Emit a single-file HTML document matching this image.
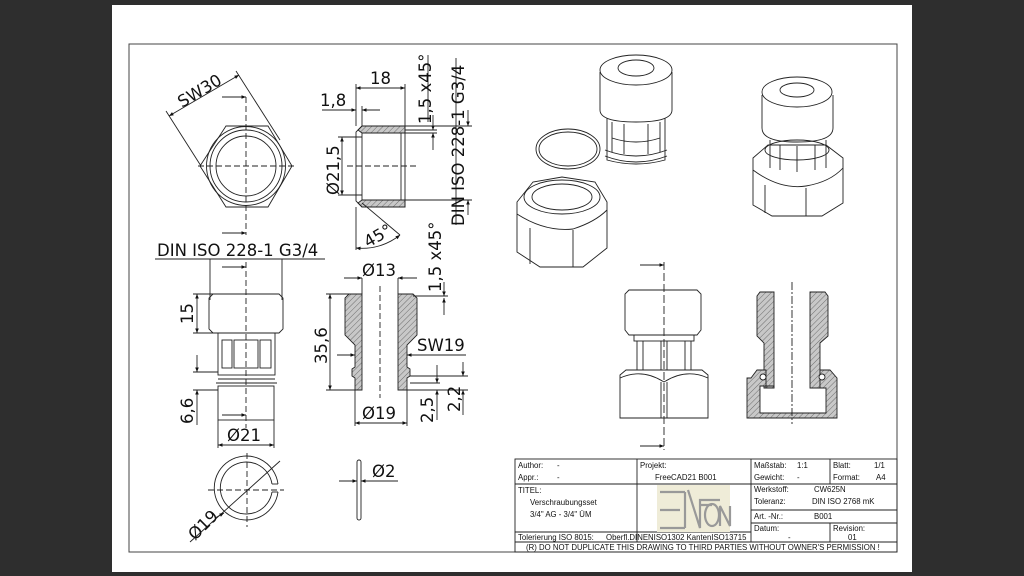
<!DOCTYPE html>
<html><head><meta charset="utf-8"><style>
html,body{margin:0;padding:0;background:#2e2e2e;}
svg{display:block;}
text{font-family:"Liberation Sans",sans-serif;fill:#111;}
.d{font-size:16.5px;font-family:"DejaVu Sans","Liberation Sans",sans-serif;}
.t{font-size:7.8px;}
</style></head><body>
<svg width="1024" height="576" viewBox="0 0 1024 576" xmlns="http://www.w3.org/2000/svg">
<defs>
<pattern id="h" width="4" height="4" patternUnits="userSpaceOnUse" patternTransform="rotate(45)">
<rect width="4" height="4" fill="#c8c8c8"/><line x1="0" y1="0" x2="0" y2="4" stroke="#555" stroke-width="0.8"/>
</pattern>
<marker id="a" viewBox="0 0 10 10" refX="10" refY="5" markerWidth="7" markerHeight="5" orient="auto-start-reverse"><path d="M0,1 L10,5 L0,9z" fill="#111"/></marker>
</defs>
<rect x="0" y="0" width="1024" height="576" fill="#2e2e2e"/>
<rect x="112" y="5" width="800" height="567" fill="#fff"/>
<rect x="129" y="44" width="768" height="508" fill="none" stroke="#444" stroke-width="1"/>

<g stroke="#222" stroke-width="0.9" fill="none">
<polygon points="200,166 226,126 268,126 292,166 268,207 226,207"/>
<circle cx="246" cy="166" r="39.5"/><circle cx="246" cy="166" r="36"/><circle cx="246" cy="166" r="30"/>
<line x1="246" y1="97" x2="246" y2="235" stroke-dasharray="6,3"/>
<line x1="198" y1="166" x2="296" y2="166" stroke-dasharray="6,3"/>
<line x1="169" y1="116" x2="239" y2="75" marker-start="url(#a)" marker-end="url(#a)"/>
<line x1="166" y1="111" x2="201" y2="166"/>
<line x1="236" y1="71" x2="280" y2="140"/>
<line x1="222" y1="97" x2="246" y2="97" marker-end="url(#a)"/>
<line x1="222" y1="233" x2="246" y2="233" marker-end="url(#a)"/>

<path d="M362,126 H405 V133 H362 L358,130 Z" fill="url(#h)"/>
<path d="M362,207 H405 V200 H362 L358,203 Z" fill="url(#h)"/>
<path d="M362,126 H405 V207 H362 L356,201 V132 Z"/>
<line x1="362" y1="133" x2="362" y2="200"/><line x1="401" y1="133" x2="401" y2="200"/>
<line x1="347" y1="166" x2="416" y2="166" stroke-dasharray="6,3"/>
<line x1="356" y1="84" x2="356" y2="126"/><line x1="405" y1="84" x2="405" y2="126"/>
<line x1="356" y1="88" x2="405" y2="88" marker-start="url(#a)" marker-end="url(#a)"/>
<line x1="362" y1="106" x2="362" y2="126"/>
<line x1="322" y1="110" x2="356" y2="110" marker-end="url(#a)"/>
<line x1="380" y1="110" x2="362" y2="110" marker-end="url(#a)"/>
<line x1="338" y1="137" x2="362" y2="137"/><line x1="338" y1="195" x2="362" y2="195"/>
<line x1="342" y1="137" x2="342" y2="195" marker-start="url(#a)" marker-end="url(#a)"/>
<line x1="405" y1="130" x2="437" y2="130"/><line x1="405" y1="133" x2="437" y2="133"/>
<line x1="433" y1="115" x2="433" y2="130" marker-end="url(#a)"/>
<line x1="433" y1="150" x2="433" y2="133" marker-end="url(#a)"/>
<line x1="405" y1="126" x2="472" y2="126"/><line x1="405" y1="200" x2="472" y2="200"/>
<line x1="468" y1="110" x2="468" y2="126" marker-end="url(#a)"/>
<line x1="468" y1="215" x2="468" y2="200" marker-end="url(#a)"/>
<line x1="428" y1="55" x2="428" y2="122"/><line x1="456" y1="58" x2="456" y2="225"/>
<line x1="356" y1="207" x2="356" y2="250"/>
<line x1="362" y1="203" x2="400" y2="235"/>
<path d="M356,248 A60,60 0 0 0 400,235" marker-start="url(#a)" marker-end="url(#a)"/>

<line x1="155" y1="259" x2="325" y2="259"/>
<line x1="210" y1="259" x2="210" y2="300"/><line x1="282" y1="259" x2="282" y2="300"/>
<path d="M213,294 H279 L283,298 V329 L279,333 H213 L209,329 V298 Z"/>
<rect x="218" y="333" width="57" height="42"/>
<rect x="222" y="340" width="10" height="28"/><rect x="234" y="340" width="24" height="28"/><rect x="260" y="340" width="11" height="28"/>
<line x1="218" y1="379" x2="275" y2="379"/><line x1="216" y1="383" x2="277" y2="383"/>
<rect x="218" y="386" width="56" height="34"/>
<line x1="246" y1="262" x2="246" y2="428" stroke-dasharray="6,3"/>
<line x1="222" y1="267" x2="246" y2="267" marker-end="url(#a)"/>
<line x1="222" y1="415" x2="246" y2="415" marker-end="url(#a)"/>
<line x1="193" y1="294" x2="213" y2="294"/><line x1="193" y1="333" x2="213" y2="333"/>
<line x1="197" y1="294" x2="197" y2="333" marker-start="url(#a)" marker-end="url(#a)"/>
<line x1="193" y1="372" x2="218" y2="372"/><line x1="193" y1="390" x2="218" y2="390"/>
<line x1="197" y1="355" x2="197" y2="372" marker-end="url(#a)"/>
<line x1="197" y1="425" x2="197" y2="390" marker-end="url(#a)"/>
<line x1="218" y1="420" x2="218" y2="448"/><line x1="274" y1="420" x2="274" y2="448"/>
<line x1="218" y1="445" x2="274" y2="445" marker-start="url(#a)" marker-end="url(#a)"/>

<path d="M278,492 A32,32 0 1 1 278,484"/>
<path d="M272,492 A26,26 0 1 1 272,484"/>
<line x1="278" y1="492" x2="272" y2="492"/><line x1="278" y1="484" x2="272" y2="484"/>
<line x1="208" y1="490" x2="284" y2="490" stroke-dasharray="6,3"/>
<line x1="247" y1="453" x2="247" y2="527" stroke-dasharray="6,3"/>
<line x1="190" y1="542" x2="280" y2="461"/>
<line x1="215" y1="518" x2="224" y2="513" marker-end="url(#a)"/>

<path d="M349,294 H362 V390 H355 V378 L352,376 V369 L355,367 V345 L345,335 V298 Z" fill="url(#h)"/>
<path d="M413,294 H398 V390 H407 V378 L410,376 V369 L407,367 V345 L417,335 V298 Z" fill="url(#h)"/>
<line x1="380" y1="286" x2="380" y2="398" stroke-dasharray="6,3"/>
<line x1="362" y1="278" x2="362" y2="294"/><line x1="398" y1="278" x2="398" y2="294"/>
<line x1="344" y1="278" x2="362" y2="278" marker-end="url(#a)"/>
<line x1="417" y1="278" x2="398" y2="278" marker-end="url(#a)"/>
<line x1="326" y1="294" x2="349" y2="294"/><line x1="326" y1="390" x2="355" y2="390"/>
<line x1="330" y1="294" x2="330" y2="390" marker-start="url(#a)" marker-end="url(#a)"/>
<line x1="337" y1="355" x2="355" y2="355" marker-end="url(#a)"/>
<line x1="466" y1="355" x2="407" y2="355" marker-end="url(#a)"/>
<line x1="413" y1="296" x2="448" y2="296"/>
<line x1="444" y1="282" x2="444" y2="296" marker-end="url(#a)"/>
<line x1="444" y1="315" x2="444" y2="298" marker-end="url(#a)"/>
<line x1="410" y1="376" x2="468" y2="376"/><line x1="410" y1="383" x2="440" y2="383"/><line x1="407" y1="390" x2="468" y2="390"/>
<line x1="437" y1="365" x2="437" y2="383" marker-end="url(#a)"/>
<line x1="437" y1="420" x2="437" y2="390" marker-end="url(#a)"/>
<line x1="463" y1="362" x2="463" y2="376" marker-end="url(#a)"/>
<line x1="463" y1="415" x2="463" y2="390" marker-end="url(#a)"/>
<line x1="355" y1="390" x2="355" y2="426"/><line x1="407" y1="390" x2="407" y2="426"/>
<line x1="355" y1="423" x2="407" y2="423" marker-start="url(#a)" marker-end="url(#a)"/>

<rect x="357" y="460" width="4" height="60" rx="2"/>
<line x1="339" y1="481" x2="357" y2="481" marker-end="url(#a)"/>
<line x1="398" y1="481" x2="361" y2="481" marker-end="url(#a)"/>

<path d="M600,72 V110 Q600,122 636,122 Q672,122 672,110 V72"/>
<ellipse cx="636" cy="70" rx="36" ry="15"/>
<ellipse cx="636" cy="68" rx="18" ry="8"/>
<path d="M607,118 V160 Q636,168 665,160 V118"/>
<path d="M612,122 V152 M624,124 V154 M648,124 V154 M660,122 V152 M612,138 Q636,146 660,138"/>
<path d="M605,150 Q636,162 667,150 M605,156 Q636,168 667,156"/>
<ellipse cx="568" cy="149" rx="32" ry="20"/><ellipse cx="568" cy="149" rx="29" ry="17"/>
<polygon points="517,202 533,182 562,177 595,182 607,202 607,248 583,267 540,267 517,252"/>
<ellipse cx="562" cy="197" rx="38" ry="17"/><ellipse cx="562" cy="197" rx="30" ry="13"/>
<path d="M530,228 V264 M573,230 V267 M517,214 Q545,232 573,229 Q595,222 607,210"/>
<path d="M762,95 V128 Q762,142 797,142 Q833,142 833,128 V95"/>
<ellipse cx="797" cy="92" rx="35" ry="15"/><ellipse cx="797" cy="90" rx="17" ry="7"/>
<path d="M770,140 V168 M826,140 V168 M780,145 V170 M797,146 V172 M815,145 V170"/>
<polygon points="753,158 768,145 826,145 843,158 843,203 822,216 772,216 753,205"/>
<ellipse cx="797" cy="150" rx="32" ry="10"/>
<path d="M765,185 V213 M806,188 V216 M753,170 Q780,190 806,186 Q830,182 843,168"/>

<path d="M629,290 H697 L701,294 V330 L697,335 H629 L625,330 V294 Z"/>
<rect x="634" y="335" width="60" height="6"/>
<path d="M637,341 V370 M643,341 V370 M685,341 V370 M691,341 V370 M661,341 V370 M667,341 V370"/>
<path d="M620,375 L626,370 H702 L708,375 V418 H620 Z"/>
<path d="M620,378 Q642,368 664,382 Q686,368 708,378"/>
<line x1="661" y1="382" x2="661" y2="418"/><line x1="667" y1="382" x2="667" y2="418"/>
<line x1="664" y1="262" x2="664" y2="450" stroke-dasharray="8,3"/>
<line x1="640" y1="265" x2="664" y2="265" marker-end="url(#a)"/>
<line x1="640" y1="446" x2="664" y2="446" marker-end="url(#a)"/>
<path d="M760,292 H774 V388 H764 V343 L757,336 V296 Z" fill="url(#h)"/>
<path d="M825,292 H810 V388 H820 V343 L828,336 V296 Z" fill="url(#h)"/>
<path d="M751,378 L757,370 H766 V388 H774 V386 H760 V413 H826 V388 H820 V370 H830 L837,378 V418 H747 V378 Z" fill="url(#h)"/>
<circle cx="763" cy="377" r="3" fill="#fff"/><circle cx="822" cy="377" r="3" fill="#fff"/>
<line x1="760" y1="413" x2="826" y2="413"/>
<line x1="792" y1="282" x2="792" y2="424" stroke-dasharray="8,2,2,2"/>

<rect x="515" y="459" width="382" height="93" stroke="#222"/>
<line x1="515" y1="484" x2="751" y2="484"/><line x1="515" y1="532" x2="751" y2="532"/>
<line x1="515" y1="542" x2="897" y2="542"/>
<line x1="637" y1="459" x2="637" y2="542"/><line x1="751" y1="459" x2="751" y2="542"/>
<line x1="830" y1="459" x2="830" y2="484"/><line x1="830" y1="523" x2="830" y2="542"/>
<line x1="751" y1="484" x2="897" y2="484"/><line x1="751" y1="510" x2="897" y2="510"/><line x1="751" y1="523" x2="897" y2="523"/>
</g>
<rect x="657" y="485" width="73" height="47" fill="#efecd8"/>
<g stroke="#999" stroke-width="2.2" fill="none">
<path d="M660,492 H685 M660,510 H680 M660,528 H685 M685,492 V528"/>
<path d="M688,490 L700,528 V500 H720 M700,505 L712,505"/>
<ellipse cx="712" cy="515" rx="7" ry="11"/>
<path d="M720,526 V506 L730,526 V506"/>
</g>

<text class="d" transform="translate(182,108) rotate(-31)">SW30</text>
<text class="d" x="370" y="84">18</text>
<text class="d" x="320" y="106">1,8</text>
<text class="d" transform="translate(339,195) rotate(-90)">Ø21,5</text>
<text class="d" transform="translate(431,124) rotate(-90)">1,5 x45°</text>
<text class="d" transform="translate(464,226) rotate(-90)">DIN ISO 228-1 G3/4</text>
<text class="d" transform="translate(368,248) rotate(-30)">45°</text>
<text class="d" x="157" y="256">DIN ISO 228-1 G3/4</text>
<text class="d" transform="translate(193,324) rotate(-90)">15</text>
<text class="d" transform="translate(193,424) rotate(-90)">6,6</text>
<text class="d" x="227" y="441">Ø21</text>
<text class="d" transform="translate(195,541) rotate(-45)">Ø19</text>
<text class="d" x="362" y="276">Ø13</text>
<text class="d" transform="translate(441,292) rotate(-90)">1,5 x45°</text>
<text class="d" transform="translate(327,364) rotate(-90)">35,6</text>
<text class="d" x="417" y="351">SW19</text>
<text class="d" x="362" y="419">Ø19</text>
<text class="d" transform="translate(433,423) rotate(-90)">2,5</text>
<text class="d" transform="translate(460,412) rotate(-90)">2,2</text>
<text class="d" x="372" y="477">Ø2</text>

<text class="t" x="518" y="468">Author:</text><text class="t" x="557" y="468">-</text>
<text class="t" x="518" y="480">Appr.:</text><text class="t" x="557" y="480">-</text>
<text class="t" x="640" y="468">Projekt:</text><text class="t" x="655" y="480">FreeCAD21 B001</text>
<text class="t" x="518" y="493">TITEL:</text>
<text class="t" x="530" y="505">Verschraubungsset</text>
<text class="t" x="530" y="517">3/4" AG - 3/4" ÜM</text>
<text class="t" x="518" y="540">Tolerierung ISO 8015:</text>
<text class="t" x="606" y="540">Oberfl.DINENISO1302 KantenISO13715</text>
<text class="t" x="754" y="468">Maßstab:</text><text class="t" x="797" y="468">1:1</text>
<text class="t" x="754" y="480">Gewicht:</text><text class="t" x="797" y="480">-</text>
<text class="t" x="833" y="468">Blatt:</text><text class="t" x="874" y="468">1/1</text>
<text class="t" x="833" y="480">Format:</text><text class="t" x="876" y="480">A4</text>
<text class="t" x="754" y="492">Werkstoff:</text><text class="t" x="814" y="492">CW625N</text>
<text class="t" x="754" y="504">Toleranz:</text><text class="t" x="812" y="504">DIN ISO 2768 mK</text>
<text class="t" x="754" y="519">Art. -Nr.:</text><text class="t" x="814" y="519">B001</text>
<text class="t" x="754" y="531">Datum:</text><text class="t" x="788" y="540">-</text>
<text class="t" x="833" y="531">Revision:</text><text class="t" x="848" y="540">01</text>
<text class="t" x="526" y="550">(R) DO NOT DUPLICATE THIS DRAWING TO THIRD PARTIES WITHOUT OWNER'S PERMISSION !</text>
</svg>
</body></html>
